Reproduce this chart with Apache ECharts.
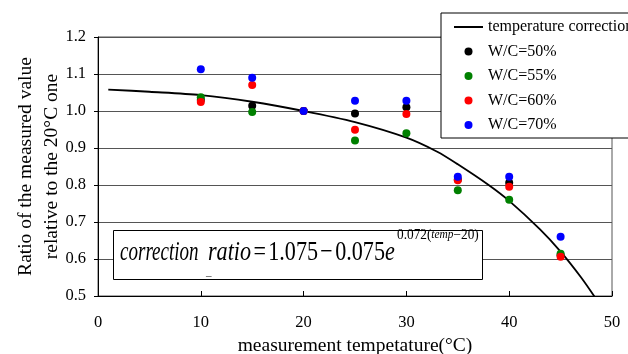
<!DOCTYPE html>
<html>
<head>
<meta charset="utf-8">
<script src="https://cdn.jsdelivr.net/npm/echarts@6/dist/echarts.min.js"></script>
<style>
  html, body { margin: 0; padding: 0; background: #fff; }
  #chart { width: 628px; height: 354px; }
</style>
</head>
<body>
<div id="chart"></div>
<script>
// measurement temperatures (°C)
const temps = [10, 15, 20, 25, 30, 35, 40, 45];
// ratios relative to the 20°C value, per W/C
const wc50 = [1.030, 1.014, 1.000, 0.993, 1.010, 0.815, 0.806, 0.610];
const wc55 = [1.037, 0.997, 1.000, 0.920, 0.940, 0.786, 0.760, 0.614];
const wc60 = [1.024, 1.070, 1.000, 0.949, 0.992, 0.813, 0.795, 0.606];
const wc70 = [1.113, 1.090, 1.000, 1.028, 1.028, 0.822, 0.822, 0.660];
// temperature correction curve
const curveT = [1, 5, 10, 15, 20, 25, 30, 33, 35, 38, 40, 43, 45, 47, 48.5];
const curveV = [1.058, 1.052, 1.043, 1.025, 1.000, 0.970, 0.928, 0.890, 0.856, 0.800, 0.757, 0.680, 0.620, 0.550, 0.490];

const xTicks = [0, 10, 20, 30, 40, 50];
const yTicks = [0.5, 0.6, 0.7, 0.8, 0.9, 1.0, 1.1, 1.2];

const FONT = 'Liberation Serif';

function pairs(xs, ys) {
  return xs.map((x, i) => [x, ys[i]]);
}

function dots(name, data, color) {
  return {
    name: name,
    type: 'scatter',
    data: pairs(temps, data),
    symbol: 'circle',
    symbolSize: 8,
    itemStyle: { color: color, opacity: 1 },
    z: 3
  };
}

let chart = echarts.init(document.getElementById('chart'), null, { renderer: 'canvas' });

chart.setOption({
  animation: false,
  backgroundColor: '#fff',
  textStyle: { fontFamily: FONT, color: '#000' },
  grid: {
    left: 98, right: 16, top: 37, bottom: 58,
    containLabel: false,
    outerBoundsMode: 'none',
    show: true, borderColor: '#555', borderWidth: 1
  },
  legend: {
    left: 441, top: 13,
    orient: 'vertical',
    backgroundColor: '#fff',
    borderColor: '#000',
    borderWidth: 1,
    padding: [6, 14, 5, 12],
    itemWidth: 29,
    itemHeight: 8,
    itemGap: 8.5,
    textStyle: { fontFamily: FONT, fontSize: 16, color: '#000', lineHeight: 16 },
    data: [
      { name: 'temperature correction', itemStyle: { color: 'rgba(0,0,0,0)', borderWidth: 0 } },
      'W/C=50%', 'W/C=55%', 'W/C=60%', 'W/C=70%'
    ]
  },
  xAxis: {
    type: 'value',
    min: xTicks[0], max: xTicks[xTicks.length - 1], interval: 10,
    name: 'measurement tempetature(°C)',
    nameLocation: 'middle',
    nameGap: 40,
    nameMoveOverlap: false,
    nameTextStyle: { fontFamily: FONT, fontSize: 19.5, color: '#000' },
    axisLine: { lineStyle: { color: '#000', width: 1 } },
    axisTick: { inside: true, length: 5, lineStyle: { color: '#000' } },
    axisLabel: { fontFamily: FONT, fontSize: 16.5, color: '#000', margin: 18 },
    splitLine: { show: false }
  },
  yAxis: {
    type: 'value',
    min: yTicks[0], max: yTicks[yTicks.length - 1], interval: 0.1,
    name: 'Ratio of the measured value\nrelative to the 20°C one',
    nameLocation: 'middle',
    nameGap: 33,
    nameMoveOverlap: false,
    nameTextStyle: { fontFamily: FONT, fontSize: 19.5, color: '#000', lineHeight: 26 },
    axisLine: { show: true, lineStyle: { color: '#000', width: 1 } },
    axisTick: { show: true, length: 4, lineStyle: { color: '#000' } },
    axisLabel: {
      fontFamily: FONT, fontSize: 16.5, color: '#000', margin: 12,
      formatter: v => v.toFixed(1)
    },
    splitLine: { show: true, lineStyle: { color: '#555', width: 1 } }
  },
  series: [
    {
      name: 'temperature correction',
      type: 'line',
      data: pairs(curveT, curveV),
      symbol: 'none',
      smooth: 0.3,
      clip: true,
      lineStyle: { color: '#000', width: 1.8 },
      itemStyle: { color: '#000' },
      z: 2
    },
    dots('W/C=50%', wc50, '#000000'),
    dots('W/C=55%', wc55, '#008000'),
    dots('W/C=60%', wc60, '#ff0000'),
    dots('W/C=70%', wc70, '#0000ff')
  ],
  graphic: [
    {
      type: 'rect',
      shape: { x: 113.5, y: 230.5, width: 369, height: 49 },
      style: { fill: '#fff', stroke: '#000', lineWidth: 1 },
      z: 10
    },
    {
      type: 'text',
      x: 120, y: 253,
      scaleX: 0.68,
      z: 11,
      style: {
        text: 'correction',
        fontFamily: FONT, fontStyle: 'italic', fontSize: 28,
        verticalAlign: 'middle',
        fill: '#000'
      }
    },
    {
      type: 'text',
      x: 208, y: 253,
      scaleX: 0.79,
      z: 11,
      style: {
        text: '{it|ratio}{op|=}{n|1.075}{op|−}{n|0.075}{it|e}',
        verticalAlign: 'middle',
        fill: '#000',
        rich: {
          it: { fontFamily: FONT, fontStyle: 'italic', fontSize: 28, fill: '#000' },
          op: { fontFamily: FONT, fontSize: 28, fill: '#000', padding: [0, 3, 0, 3] },
          n: { fontFamily: FONT, fontSize: 28, fill: '#000' }
        }
      }
    },
    {
      type: 'text',
      x: 206, y: 272,
      z: 11,
      style: { text: '_', fontFamily: FONT, fontSize: 11, fill: '#000', verticalAlign: 'middle' }
    },
    {
      type: 'text',
      x: 397, y: 235,
      scaleX: 0.95,
      z: 11,
      style: {
        text: '{n|0.072(}{it|temp}{n|−20)}',
        verticalAlign: 'middle',
        fill: '#000',
        rich: {
          n: { fontFamily: FONT, fontSize: 14, fill: '#000' },
          it: { fontFamily: FONT, fontStyle: 'italic', fontSize: 12, fill: '#000' }
        }
      }
    }
  ]
});

window.addEventListener('resize', () => {
  chart.resize();
});
</script>
</body>
</html>
